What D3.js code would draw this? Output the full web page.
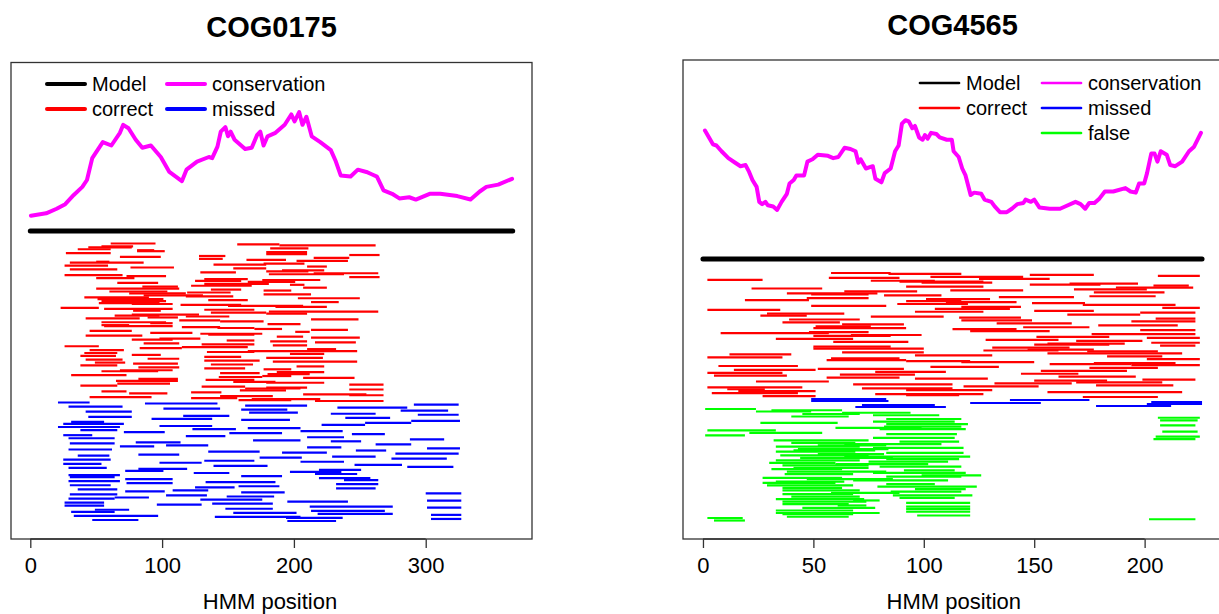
<!DOCTYPE html>
<html>
<head>
<meta charset="utf-8">
<script src="https://cdnjs.cloudflare.com/ajax/libs/d3/7.8.5/d3.min.js"></script>
<style>
  body { margin: 0; background: #fff; }
  svg { font-family: "Liberation Sans", Arial, Helvetica, sans-serif; }
</style>
</head>
<body>
<div id="chart"></div>
<script>
const width = 1219
const height = 614

const segColors = { model: "#000000", conservation: "#FF00FF", correct: "#FF0000", missed: "#0000FF", false: "#00FF00" }

// COG0175 (model length 366)
const leftTitle = "COG0175"
const leftModelLength = 366
const leftTicks = [0, 100, 200, 300]

// conservation profile: [HMM position, score]
const leftConservation = [[0.5,0.09],[12,0.11],[20,0.15],[26.5,0.19],[33,0.27],[39.5,0.34],[43,0.40],[47,0.59],[55,0.73],[61.5,0.70],[68,0.81],[70.5,0.88],[74.5,0.85],[80,0.75],[85,0.68],[91.5,0.70],[99,0.60],[105.5,0.47],[115,0.39],[118.5,0.49],[126.5,0.56],[135.5,0.60],[138,0.59],[142,0.69],[144.5,0.82],[148,0.86],[150,0.78],[152,0.82],[155,0.75],[163,0.67],[168,0.68],[172,0.79],[174.5,0.82],[177,0.70],[180,0.78],[186,0.81],[193,0.88],[198,0.97],[200.5,0.91],[204,0.99],[206.5,0.88],[209.5,0.95],[213.5,0.78],[220,0.73],[228,0.66],[231.5,0.57],[235.5,0.44],[243,0.43],[248.5,0.49],[255,0.47],[259,0.45],[263,0.43],[268,0.31],[274.5,0.28],[280,0.24],[287.5,0.25],[292.5,0.23],[303,0.28],[311,0.28],[324,0.26],[334,0.23],[341,0.30],[346,0.34],[355,0.36],[365.5,0.41]]

// matched regions: [start, end], one per sequence
const leftCorrect = [[61,95],[157,189],[189,262],[54,78],[44,77],[182,211],[36,61],[81,94],[81,102],[179,210],[27,61],[179,210],[242,265],[128,148],[68,99],[215,242],[128,146],[164,194],[202,241],[50,60],[30,86],[177,208],[139,179],[26,59],[210,225],[76,109],[154,179],[30,66],[191,223],[179,211],[129,156],[215,264],[181,238],[26,70],[73,103],[242,265],[50,79],[132,165],[176,220],[125,160],[165,201],[66,97],[132,181],[197,208],[122,168],[85,112],[207,225],[50,113],[137,160],[177,198],[60,104],[119,152],[75,118],[177,213],[86,131],[118,154],[41,90],[203,250],[51,101],[135,165],[54,103],[213,234],[52,98],[77,108],[114,160],[150,207],[186,225],[23,52],[56,108],[132,170],[78,99],[181,264],[137,179],[179,210],[77,128],[64,98],[118,151],[89,112],[42,83],[213,249],[113,144],[144,177],[54,103],[91,108],[180,205],[54,75],[56,108],[115,144],[142,170],[170,191],[213,241],[45,77],[201,212],[91,123],[129,176],[135,170],[42,85],[187,207],[213,250],[98,129],[77,108],[149,170],[182,210],[216,247],[86,113],[130,170],[184,210],[26,52],[115,165],[83,115],[210,232],[45,71],[165,248],[134,170],[41,66],[197,223],[77,99],[38,65],[132,160],[179,222],[89,113],[42,70],[132,174],[184,248],[49,72],[78,112],[137,169],[38,66],[202,223],[82,113],[132,163],[177,198],[68,108],[54,97],[187,223],[144,174],[180,212],[31,73],[176,198],[143,176],[207,246],[82,112],[133,170],[65,112],[154,186],[179,223],[66,106],[242,268],[38,66],[130,163],[179,210],[163,205],[242,268],[159,194],[54,73],[122,145],[75,104],[207,255],[242,268],[144,184],[45,92],[122,157],[168,220],[158,198],[216,268]]

const leftMissed = [[21,45],[87,142],[291,325],[163,210],[29,70],[233,286],[101,144],[160,195],[281,317],[42,77],[166,203],[228,262],[294,325],[116,151],[44,77],[239,273],[92,138],[160,197],[289,326],[31,56],[254,289],[25,71],[221,254],[98,138],[21,68],[165,205],[123,156],[38,66],[205,237],[71,102],[151,191],[244,269],[25,47],[118,148],[210,238],[29,64],[288,314],[169,205],[228,251],[80,114],[30,64],[262,289],[103,135],[68,94],[210,236],[301,326],[29,62],[247,270],[135,174],[191,225],[277,325],[82,113],[36,60],[229,262],[174,206],[274,316],[25,61],[132,170],[205,238],[98,130],[25,54],[246,282],[139,180],[286,321],[29,58],[82,119],[219,251],[72,101],[197,236],[124,151],[216,248],[29,68],[160,191],[30,64],[219,258],[72,108],[238,264],[29,68],[133,186],[73,108],[232,264],[30,61],[158,189],[125,155],[232,262],[36,66],[108,135],[72,102],[160,193],[300,327],[30,66],[103,134],[149,185],[64,90],[29,64],[129,176],[301,327],[195,241],[26,56],[138,184],[96,130],[26,56],[212,275],[301,327],[148,184],[49,75],[213,269],[31,64],[154,202],[218,275],[304,327],[33,97],[140,205],[194,237],[304,327],[47,82],[195,232]]

// COG4565 (model length 226)
const rightTitle = "COG4565"
const rightModelLength = 226
const rightTicks = [0, 50, 100, 150, 200]

const rightConservation = [[0.9,0.83],[3,0.76],[4.5,0.71],[6.1,0.70],[8.4,0.65],[11.5,0.59],[14.6,0.55],[17,0.52],[19.3,0.53],[20.9,0.47],[22.4,0.40],[24.3,0.34],[25.5,0.21],[26.8,0.19],[28.3,0.21],[29.4,0.18],[31.8,0.17],[33.6,0.14],[35.6,0.21],[38,0.28],[39.2,0.37],[41.1,0.40],[42.3,0.44],[45.8,0.44],[47.3,0.56],[49.6,0.58],[52,0.62],[56.6,0.61],[59,0.59],[61.3,0.60],[64.1,0.68],[66.8,0.67],[69.1,0.65],[70.4,0.55],[71.4,0.58],[73.8,0.50],[76.9,0.52],[78.1,0.41],[80.8,0.38],[82.3,0.46],[85,0.50],[87,0.65],[88.6,0.70],[90.1,0.89],[91.7,0.92],[93.2,0.91],[94.8,0.85],[96,0.87],[97.9,0.77],[99.5,0.75],[100.5,0.79],[101.8,0.76],[103.3,0.81],[105.7,0.80],[107.2,0.77],[110.4,0.75],[112.7,0.75],[113.5,0.65],[115.8,0.60],[117.4,0.50],[118.9,0.44],[121.2,0.27],[122.8,0.29],[126,0.28],[127.5,0.23],[130.6,0.21],[132.1,0.17],[134.5,0.12],[137.6,0.12],[139.9,0.15],[142.3,0.19],[145.1,0.20],[146.1,0.23],[148.5,0.21],[150,0.23],[152.4,0.16],[157,0.15],[161.7,0.15],[164,0.17],[168.7,0.21],[171,0.19],[173.1,0.15],[174.9,0.20],[177.3,0.20],[179.6,0.24],[182,0.30],[185.8,0.30],[191.3,0.33],[193.6,0.30],[196,0.29],[197.5,0.37],[199.8,0.37],[201.1,0.46],[203,0.63],[204.5,0.63],[205.8,0.56],[207.3,0.65],[210,0.62],[211.6,0.53],[213.9,0.52],[217,0.56],[220.1,0.65],[222.4,0.69],[225.5,0.81]]

const rightCorrect = [[58,85],[84,117],[148,177],[206,225],[103,145],[57,89],[125,157],[2,27],[76,105],[89,127],[99,131],[166,197],[148,180],[204,220],[92,127],[187,222],[22,54],[168,201],[112,145],[64,97],[177,209],[38,79],[49,75],[82,108],[175,205],[134,168],[47,75],[101,130],[19,48],[92,117],[110,142],[149,173],[88,120],[172,214],[49,83],[117,144],[208,225],[105,139],[2,35],[150,177],[96,127],[198,223],[29,64],[165,198],[26,47],[76,109],[116,144],[205,223],[39,71],[117,149],[194,223],[36,62],[133,167],[63,91],[179,215],[51,76],[145,175],[50,92],[113,142],[198,223],[121,157],[48,75],[8,57],[176,223],[67,99],[50,85],[151,184],[201,225],[33,68],[128,161],[169,199],[59,93],[203,225],[156,191],[150,184],[207,223],[50,85],[131,166],[50,100],[147,177],[127,161],[174,206],[63,100],[156,217],[12,40],[96,131],[183,208],[2,36],[58,89],[201,225],[56,92],[92,121],[117,150],[177,214],[157,194],[194,225],[7,43],[103,134],[175,206],[52,91],[14,51],[153,192],[78,110],[2,36],[144,170],[62,96],[5,38],[161,196],[56,89],[96,129],[199,223],[150,183],[24,57],[169,208],[132,167],[68,113],[178,213],[118,152],[2,45],[72,113],[11,28],[92,131],[16,51],[156,217],[4,43],[78,127],[92,116],[27,51],[172,206]]

const rightMissed = [[49,83],[139,175],[49,84],[203,226],[121,153],[201,226],[72,105],[178,212],[69,110]]

const rightFalse = [[1,24],[31,63],[24,49],[63,94],[45,71],[77,107],[40,66],[206,225],[83,117],[207,224],[77,114],[26,61],[83,120],[207,223],[82,117],[60,99],[80,119],[2,33],[208,224],[21,54],[83,115],[1,19],[205,225],[77,114],[204,223],[32,75],[89,116],[40,69],[64,108],[52,83],[33,71],[77,118],[43,84],[41,78],[33,69],[83,118],[52,82],[35,75],[64,121],[44,86],[83,116],[33,71],[75,111],[30,60],[60,102],[36,75],[80,117],[41,75],[31,63],[91,114],[38,83],[77,119],[37,68],[99,126],[83,117],[27,63],[47,86],[68,111],[33,64],[27,60],[83,105],[29,68],[79,124],[36,63],[96,119],[36,71],[85,117],[58,89],[36,68],[86,122],[40,71],[89,114],[33,73],[68,80],[36,74],[92,121],[36,66],[61,74],[92,121],[45,78],[92,121],[33,68],[92,121],[33,80],[36,68],[97,121],[38,66],[2,18],[202,223],[5,19]]

var svg = d3.select("#chart").append("svg")
  .attr("width", width)
  .attr("height", height)

function drawPanel(p) {
  // One R-style panel: box, title, conservation, model bar, segment stacks, x axis.
  let L = p.length
  let x = d3.scaleLinear()
    .domain([-0.04 * L, 1.04 * L])
    .range([p.left, p.right])
  let yCons = d3.scaleLinear().domain([0, 1]).range([226, 111])

  let g = svg.append("g")

  g.append("text")
    .attr("x", (p.left + p.right) / 2)
    .attr("y", p.titleY)
    .attr("text-anchor", "middle")
    .style("font-size", "29px")
    .style("font-weight", "bold")
    .text(p.title)

  // conservation profile
  let line = d3.line()
    .x(function(d) { return x(d[0]) })
    .y(function(d) { return yCons(d[1]) })
  g.append("path")
    .datum(p.conservation)
    .attr("d", line)
    .attr("fill", "none")
    .attr("stroke", segColors.conservation)
    .attr("stroke-width", 4)
    .attr("stroke-linejoin", "round")
    .attr("stroke-linecap", "round")

  // the model itself
  g.append("line")
    .attr("x1", x(0)).attr("x2", x(L))
    .attr("y1", p.modelY).attr("y2", p.modelY)
    .attr("stroke", segColors.model)
    .attr("stroke-width", 5)
    .attr("stroke-linecap", "round")

  // stacked hits, each group in its own vertical band
  p.groups.forEach(function(grp) {
    let y = d3.scaleLinear()
      .domain([0, grp.data.length - 1])
      .range(grp.band)
    g.append("g")
      .selectAll("line")
      .data(grp.data)
      .enter().append("line")
      .attr("x1", function(d) { return x(d[0]) })
      .attr("x2", function(d) { return x(d[1]) })
      .attr("y1", function(d, i) { return y(i) })
      .attr("y2", function(d, i) { return y(i) })
      .attr("stroke", segColors[grp.key])
      .attr("stroke-width", 2.2)
  })

  // plot box
  g.append("rect")
    .attr("x", p.left).attr("y", p.top)
    .attr("width", p.right - p.left)
    .attr("height", p.bottom - p.top)
    .attr("fill", "none")
    .attr("stroke", "#333")
    .attr("stroke-width", 1.3)

  // x axis, R style: line only between first and last tick
  let axis = d3.axisBottom(x)
    .tickValues(p.ticks)
    .tickSize(9)
    .tickPadding(9)
  let ax = g.append("g")
    .attr("transform", "translate(0," + p.bottom + ")")
    .call(axis)
  ax.select(".domain").remove()
  ax.append("line")
    .attr("x1", x(p.ticks[0]))
    .attr("x2", x(p.ticks[p.ticks.length - 1]))
    .attr("stroke", "#333")
    .attr("stroke-width", 1.3)
  ax.selectAll(".tick line").attr("stroke", "#333").attr("stroke-width", 1.3)
  ax.selectAll(".tick text")
    .attr("fill", "#000")
    .style("font-size", "22px")
    .style("font-family", "'Liberation Sans', Arial, sans-serif")

  g.append("text")
    .attr("x", (x(p.ticks[0]) + x(p.ticks[p.ticks.length - 1])) / 2 + p.labelShift)
    .attr("y", 609)
    .attr("text-anchor", "middle")
    .style("font-size", "22px")
    .text("HMM position")

  // legend
  p.legend.forEach(function(item) {
    let lg = g.append("g")
      .attr("transform", "translate(" + item.x + "," + item.y + ")")
    lg.append("line")
      .attr("x1", 0).attr("x2", p.legendLine)
      .attr("y1", -7).attr("y2", -7)
      .attr("stroke", segColors[item.key])
      .attr("stroke-width", p.legendWidth)
      .attr("stroke-linecap", "round")
    lg.append("text")
      .attr("x", p.legendLine + 7)
      .attr("y", 0)
      .style("font-size", "20px")
      .text(item.label)
  })
}

drawPanel({
  title: leftTitle, titleY: 37, length: leftModelLength, ticks: leftTicks,
  left: 11, right: 532, top: 62.5, bottom: 539, modelY: 231, labelShift: 42,
  conservation: leftConservation,
  groups: [
    { key: "correct", data: leftCorrect, band: [243.5, 401] },
    { key: "missed", data: leftMissed, band: [402.5, 521] }
  ],
  legendLine: 38, legendWidth: 4,
  legend: [
    { key: "model", label: "Model", x: 47, y: 91 },
    { key: "conservation", label: "conservation", x: 167, y: 91 },
    { key: "correct", label: "correct", x: 47, y: 116 },
    { key: "missed", label: "missed", x: 167, y: 116 }
  ]
})

drawPanel({
  title: rightTitle, titleY: 35, length: rightModelLength, ticks: rightTicks,
  left: 683, right: 1222, top: 60, bottom: 539, modelY: 259, labelShift: 30,
  conservation: rightConservation,
  groups: [
    { key: "correct", data: rightCorrect, band: [273, 397] },
    { key: "missed", data: rightMissed, band: [399, 407] },
    { key: "false", data: rightFalse, band: [409, 520.5] }
  ],
  legendLine: 39, legendWidth: 2.7,
  legend: [
    { key: "model", label: "Model", x: 920, y: 90 },
    { key: "conservation", label: "conservation", x: 1042, y: 90 },
    { key: "correct", label: "correct", x: 920, y: 115 },
    { key: "missed", label: "missed", x: 1042, y: 115 },
    { key: "false", label: "false", x: 1042, y: 140 }
  ]
})
</script>
</body>
</html>
